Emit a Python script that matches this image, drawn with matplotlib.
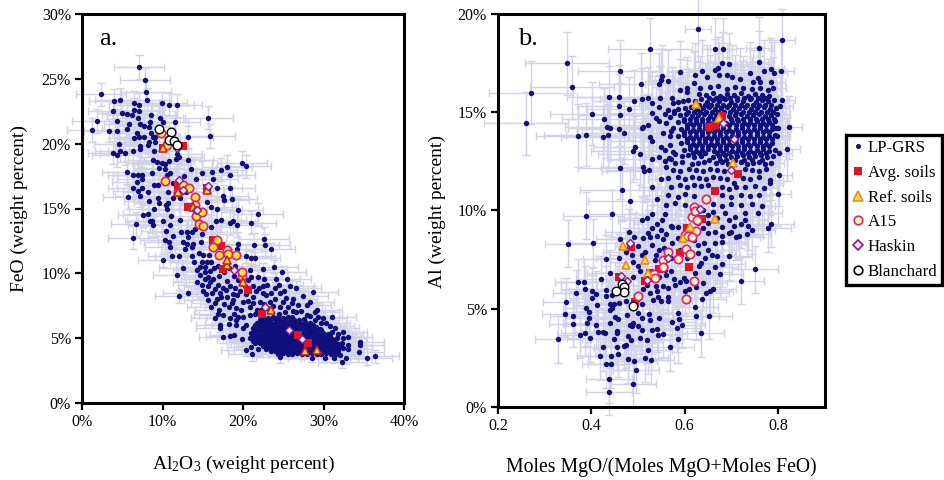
import matplotlib
matplotlib.use("Agg")
import matplotlib.pyplot as plt
from matplotlib.lines import Line2D
from matplotlib.ticker import FuncFormatter

plt.rcParams['font.family'] = ['Liberation Serif', 'DejaVu Sans']
plt.rcParams['mathtext.default'] = 'regular'

# ---------- Panel a: Al2O3 vs FeO ----------
a_high = [(7.1,25.9),(7.85,24.9),(7.9,24.0),(8.0,23.4),(2.4,23.8),(4.0,23.3),(4.7,23.4),(6.4,23.15),(7.1,23.0),(9.95,23.1),
(10.8,23.0),(11.8,22.95),(3.9,22.5),(5.0,22.4),(6.45,22.6),(7.05,22.5),(5.6,22.25),(6.2,22.2),(8.6,22.2),(7.0,22.0),
(15.65,22.0),(1.9,21.75),(4.4,21.75),(8.4,21.7),(9.65,22.0),(10.1,21.7),(11.5,21.65),(7.2,21.55),(7.7,21.4),(5.85,21.5),
(8.25,21.3),(1.2,21.05),(3.35,21.0),(4.3,20.95),(5.6,21.15),(8.5,20.85),(6.85,20.8),(9.05,20.5),(6.45,20.45),(7.1,20.5),
(7.7,20.5),(8.85,20.5),(13.1,20.5),(15.85,20.6),(4.55,20.0),(8.35,20.15),(8.2,19.9),(7.2,19.85),(7.2,19.6),(9.05,20.1),
(3.9,19.3),(4.7,19.45),(4.3,19.1),(5.3,19.25),(6.3,19.4),(8.9,19.45),(11.75,19.2),(12.0,19.0),(11.65,18.8),(13.15,18.75),
(8.85,18.75),(9.25,18.6),(9.9,18.5),(10.3,18.4),(10.8,18.65),(9.6,18.15),(10.3,18.05),(13.5,18.05),(19.8,18.5),(20.3,18.25),
(18.0,18.2),(17.3,18.0),(16.15,17.85),(14.85,17.75),(18.35,17.6),(5.6,17.8),(6.35,17.6),(7.0,17.55),(7.5,17.6),(8.65,17.7),
(10.9,17.7),(12.7,17.5),(10.55,17.6),(14.1,17.25),(16.3,17.25),(7.4,17.3),(6.8,17.05),(9.45,16.8),(8.9,16.8),(11.3,16.95),
(6.3,16.6),(7.5,16.6),(16.7,16.55),(18.35,16.6),(6.9,16.35),(8.2,16.25),(7.2,16.0),(5.65,15.9),(10.7,16.3),(12.9,16.3),
(17.45,15.95),(17.65,15.65),(18.6,15.7),(8.35,15.55),(9.45,15.8),(9.5,15.45),(10.7,15.45),(10.4,15.25),(11.3,15.8),(12.15,15.8),
(8.95,14.95),(10.6,15.0),(15.45,15.5),(16.05,15.15),(16.7,15.0),(19.4,14.9),(21.85,14.55),(21.0,13.9),(7.6,14.5),(8.2,14.55),
(6.7,13.8),(8.65,14.0),(8.4,14.05),(8.85,13.7),(10.1,14.0),(11.0,14.4),(10.9,13.7),(12.15,14.1),(6.35,12.75),(10.3,12.55),
(10.8,12.45),(10.9,12.05),(10.4,13.3),(11.25,12.85),(12.25,13.2),(13.0,13.15),(13.6,13.2),(14.0,13.45),(13.2,12.8),(12.55,12.45),
(13.0,12.3),(13.8,12.3),(14.7,12.4),(14.85,13.0),(16.05,13.6),(16.6,14.05),(17.3,14.1),(18.35,13.85),(19.2,13.7),(18.75,14.0),
(22.55,12.65),(21.3,12.2),(22.7,12.15),(19.4,12.3)]

a_low = [(12.8,11.85),(13.6,12.0),(14.5,11.55),(11.2,11.35),(12.0,11.35),(10.0,11.0),(23.4,11.85),(19.2,11.9),(20.4,11.3),(20.9,11.2),
(21.5,11.15),(14.85,10.9),(15.45,10.9),(16.05,10.9),(14.6,10.5),(15.25,10.5),(14.3,10.25),(12.55,10.4),(11.8,9.9),(14.6,9.9),
(15.65,9.75),(16.3,9.6),(14.3,9.35),(14.85,9.1),(15.65,9.0),(13.1,8.45),(12.0,8.25),(16.9,9.1),(17.5,8.85),(18.35,9.0),
(16.1,8.45),(15.65,7.95),(16.05,7.4),(16.7,8.05),(17.3,8.15),(17.95,8.2),(18.75,7.95),(19.4,9.5),(19.2,8.3),(20.0,7.8),
(20.8,7.4),(20.85,10.25),(21.0,9.75),(21.85,9.75),(22.6,9.6),(22.4,10.3),(23.8,10.5),(24.75,10.1),(24.1,9.6),(25.4,9.6),
(25.8,9.0),(26.6,8.9),(28.7,8.55),(27.45,8.25),(28.25,7.8),(29.2,7.2),(28.9,7.0),(27.85,7.55),(26.2,8.05),(24.55,8.45),
(23.9,8.85),(22.5,8.45),(21.25,8.2),(22.05,7.8),(23.3,7.8),(24.55,7.4),(25.6,7.4),(26.8,7.55),(26.6,7.0),(27.85,6.8),
(29.9,6.55),(30.95,6.6),(29.7,6.15),(31.35,5.75),(32.4,5.5),(32.4,5.05),(33.0,5.1),(33.0,4.5),(34.45,4.7),(34.45,4.5),
(34.4,3.9),(33.0,4.15),(32.8,3.5),(32.3,3.2),(35.4,3.45),(36.3,3.6),(24.55,3.55),(21.1,3.75),(20.3,4.1),(21.85,4.15),
(21.0,4.35),(17.5,5.1),(18.35,5.2),(18.85,5.25),(19.8,4.9),(17.1,6.0),(17.1,5.75),(16.55,6.55),(16.9,6.9),(17.5,6.8),
(18.4,6.55),(19.15,6.0),(20.0,5.75),(20.4,6.0),(18.85,6.9),(20.0,6.65),(15.3,9.6),(17.0,9.8),(18.0,9.4),(19.0,8.9),
(20.2,9.0),(21.2,9.0),(22.0,8.9),(23.0,9.1),(18.2,10.4),(19.0,10.6),(16.9,10.6),(15.9,10.2),(20.3,8.4),(21.7,7.2),
(23.0,7.3),(24.0,8.0),(25.0,8.6),(22.8,8.3),(20.6,7.9),(19.1,7.3),(21.4,6.9),(18.2,7.4),
(15.0,8.6),(15.2,10.1),(15.9,9.3),(16.5,8.8),(17.1,8.5),(17.9,8.7),(18.7,8.4),(19.6,8.6),(20.7,8.8),(21.6,8.6),
(22.4,9.0),(23.4,8.5),(24.4,9.1),(25.3,8.1),(26.0,7.7),(24.9,7.8),(23.7,7.5),(22.6,7.6),(21.2,7.7),(19.7,7.2),
(18.6,7.7),(17.6,7.6),(17.0,7.2),(16.5,7.7),(15.4,8.4),(19.8,9.3),(20.6,9.5),(18.8,9.8),(17.6,10.1),(16.4,10.4),
(19.4,6.6),(19.1,6.4),(18.2,6.1),(20.8,6.8),(22.2,7.2),(24.4,6.9),(25.2,7.0),(26.2,7.1),(27.2,7.1),(28.3,6.7),
(28.9,6.4),(29.3,6.6),(30.3,6.2),(30.7,5.9),(31.0,5.5),(31.8,5.3),(13.9,10.9),(13.6,11.3),(15.0,11.4),(15.8,11.4)]

a_dense = [(22.4,6.6),(23.1,6.55),(23.7,6.65),(24.3,6.6),(24.9,6.55),(25.5,6.65),(26.1,6.6),
(21.7,6.2),(22.3,6.25),(22.9,6.15),(23.5,6.2),(24.1,6.25),(24.7,6.15),(25.3,6.2),(25.9,6.25),(26.5,6.15),(27.1,6.2),(27.7,6.25),(28.3,6.15),
(21.2,5.8),(21.8,5.85),(22.4,5.75),(23.0,5.8),(23.6,5.85),(24.2,5.75),(24.8,5.8),(25.4,5.85),(26.0,5.75),(26.6,5.8),(27.2,5.85),(27.8,5.75),(28.4,5.8),(29.0,5.85),(29.5,5.7),
(20.9,5.4),(21.5,5.45),(22.1,5.35),(22.7,5.4),(23.3,5.45),(23.9,5.35),(24.5,5.4),(25.1,5.45),(25.7,5.35),(26.3,5.4),(26.9,5.45),(27.5,5.35),(28.1,5.4),(28.7,5.45),(29.3,5.35),(29.9,5.4),(30.5,5.3),
(20.8,5.0),(21.4,5.05),(22.0,4.95),(22.6,5.0),(23.2,5.05),(23.8,4.95),(24.4,5.0),(25.0,5.05),(25.6,4.95),(26.2,5.0),(26.8,5.05),(27.4,4.95),(28.0,5.0),(28.6,5.05),(29.2,4.95),(29.8,5.0),(30.4,5.05),(31.0,4.95),(31.6,5.0),
(21.5,4.6),(22.1,4.65),(22.7,4.55),(23.3,4.6),(23.9,4.65),(24.5,4.55),(25.1,4.6),(25.7,4.65),(26.3,4.55),(26.9,4.6),(27.5,4.65),(28.1,4.55),(28.7,4.6),(29.3,4.65),(29.9,4.55),(30.5,4.6),(31.1,4.65),(31.7,4.55),(32.2,4.6),
(22.8,4.2),(23.4,4.25),(24.0,4.15),(24.6,4.2),(25.2,4.25),(25.8,4.15),(26.4,4.2),(27.0,4.25),(27.6,4.15),(28.2,4.2),(28.8,4.25),(29.4,4.15),(30.0,4.2),(30.6,4.25),(31.2,4.15),(31.8,4.2),(32.4,4.25),
(24.3,3.8),(24.9,3.85),(25.5,3.75),(26.1,3.8),(26.7,3.85),(27.3,3.75),(27.9,3.8),(28.5,3.85),(29.1,3.75),(29.7,3.8),(30.3,3.85),(30.9,3.75),(31.5,3.8),(32.0,3.7),
(28.5,3.5),(30.2,3.5),(31.2,3.45),
(22.1,6.4),(22.7,6.4),(23.3,6.4),(23.9,6.45),(24.5,6.4),(25.1,6.4),(25.7,6.45),(26.3,6.4),(26.9,6.4),(27.5,6.5),
(21.5,6.0),(22.1,6.0),(22.7,6.0),(23.3,6.0),(23.9,6.05),(24.5,6.0),(25.1,6.0),(25.7,6.05),(26.3,6.0),(26.9,6.0),(27.5,6.0),(28.1,6.0),(28.7,6.0),
(21.3,5.6),(21.9,5.6),(22.5,5.6),(23.1,5.6),(23.7,5.65),(24.3,5.6),(24.9,5.6),(25.5,5.65),(26.1,5.6),(26.7,5.6),(27.3,5.6),(27.9,5.6),(28.5,5.6),(29.1,5.6),(29.7,5.6),
(21.1,5.2),(21.7,5.2),(22.3,5.2),(22.9,5.2),(23.5,5.25),(24.1,5.2),(24.7,5.2),(25.3,5.25),(25.9,5.2),(26.5,5.2),(27.1,5.2),(27.7,5.2),(28.3,5.2),(28.9,5.2),(29.5,5.2),(30.1,5.2),(30.7,5.2),
(21.2,4.8),(21.8,4.8),(22.4,4.8),(23.0,4.8),(23.6,4.85),(24.2,4.8),(24.8,4.8),(25.4,4.85),(26.0,4.8),(26.6,4.8),(27.2,4.8),(27.8,4.8),(28.4,4.8),(29.0,4.8),(29.6,4.8),(30.2,4.8),(30.8,4.8),(31.4,4.8),
(22.4,4.4),(23.0,4.4),(23.6,4.4),(24.2,4.45),(24.8,4.4),(25.4,4.4),(26.0,4.45),(26.6,4.4),(27.2,4.4),(27.8,4.4),(28.4,4.4),(29.0,4.4),(29.6,4.4),(30.2,4.4),(30.8,4.4),(31.4,4.4),(32.0,4.4),
(23.4,4.0),(24.0,4.0),(24.6,4.0),(25.2,4.0),(25.8,4.05),(26.4,4.0),(27.0,4.0),(27.6,4.0),(28.2,4.0),(28.8,4.0),(29.4,4.0),(30.0,4.0),(30.6,4.0),(31.2,4.0),(31.8,4.0)]

a_avg = [(12.5,19.8),(10.1,19.7),(15.45,16.55),(11.9,16.7),(13.2,15.1),(14.0,15.15),(16.3,12.6),(17.3,12.1),(17.5,10.3),(20.6,8.7),(22.3,6.9),(26.8,5.25),(28.0,4.6)]
a_ref = [(10.1,19.7),(15.45,16.4),(11.9,16.3),(13.8,15.15),(17.95,10.65),(17.95,11.0),(20.0,9.35),(23.5,7.2),(27.7,4.0),(29.2,4.05)]
a_a15 = [(10.3,17.1),(12.55,16.8),(13.25,16.6),(11.95,16.3),(14.0,15.85),(10.6,19.9),(9.75,20.85),(14.0,15.3),(14.1,14.45),(14.85,14.7),(14.55,13.8),(15.05,13.65),(16.8,12.6),(16.3,12.05),(17.95,11.8),(17.0,11.4),(18.15,11.5),(19.05,11.45),(19.9,9.8),(19.9,10.1)]
a_haskin = [(12.0,17.2),(12.5,16.4),(15.6,16.75),(11.75,19.65),(14.2,14.9),(14.3,14.85),(18.85,10.25),(22.7,7.4),(25.65,5.65),(27.25,4.9)]
a_blanchard = [(9.55,21.1),(11.0,20.9),(10.8,20.25),(11.4,20.2),(11.75,19.9)]

# ---------- Panel b: Mg number vs Al ----------
b_left = [(.27,16.0),(.261,14.44),(.347,17.5),(.358,16.27),(.461,17.08),(.526,18.2),(.506,16.44),(.438,15.76),(.459,15.8),(.459,15.34),
(.481,15.17),(.491,15.55),(.509,15.67),(.522,15.7),(.402,14.93),(.462,14.88),(.428,14.64),(.371,13.8),(.388,13.85),(.424,13.74),
(.436,13.83),(.433,14.27),(.44,14.18),(.459,14.17),(.469,13.96),(.509,14.18),(.511,14.27),(.521,14.35),(.529,14.95),(.526,13.76),
(.529,13.56),(.494,13.22),(.49,13.05),(.504,12.88),(.461,12.18),(.51,12.23),(.513,12.03),(.524,12.07),(.466,11.05),(.482,10.5),(.531,12.64)]

b_main = [(.544,15.28),(.547,15.74),(.531,15.45),(.544,16.44),(.549,16.64),(.551,16.84),(.564,16.59),(.544,12.74),(.549,13.22),(.558,13.08),
(.558,12.54),(.566,12.66),(.553,13.93),(.569,13.81),(.538,14.69),(.544,14.56),(.558,14.91),(.569,14.78),(.561,14.44),(.572,15.71),
(.574,15.49),(.586,15.54),(.597,15.59),(.59,16.13),(.606,16.22),(.606,16.05),(.591,17.05),(.622,16.9),(.638,17.1),(.621,16.5),
(.633,16.25),(.647,16.8),(.628,19.23),(.666,18.2),(.682,18.2),(.76,18.27),(.759,17.54),(.809,18.67),(.679,17.49),(.694,17.44),
(.665,17.15),(.672,17.23),(.674,16.9),(.69,16.9),(.701,16.8),(.719,16.67),(.74,16.98),(.771,17.08),(.784,17.18),(.792,16.98),
(.806,17.08),(.758,16.73),(.761,16.56),(.747,16.56),(.786,16.56),(.79,16.22),(.779,16.13),(.808,15.62),(.804,15.32),(.824,14.23),
(.82,13.12),(.795,14.18),(.797,13.8),(.803,12.91),(.803,11.81),(.799,10.83),(.783,11.56),(.783,11.39)]

b_core = [(.655,16.3),(.672,16.35),(.69,16.2),(.708,16.3),(.725,16.25),(.745,16.2),(.762,16.25),
(.63,15.95),(.645,15.9),(.66,16.0),(.675,15.85),(.69,15.95),(.705,15.9),(.72,16.0),(.735,15.85),(.75,15.95),(.765,15.9),(.78,15.85),
(.608,15.6),(.622,15.55),(.635,15.65),(.648,15.5),(.661,15.6),(.674,15.55),(.687,15.65),(.7,15.5),(.713,15.6),(.726,15.55),(.739,15.65),(.752,15.5),(.765,15.6),(.778,15.55),(.791,15.6),
(.6,15.2),(.613,15.25),(.626,15.15),(.639,15.2),(.652,15.25),(.665,15.15),(.678,15.2),(.691,15.25),(.704,15.15),(.717,15.2),(.73,15.25),(.743,15.15),(.756,15.2),(.769,15.25),(.782,15.15),(.795,15.2),
(.59,14.85),(.603,14.9),(.616,14.8),(.629,14.85),(.642,14.9),(.655,14.8),(.668,14.85),(.694,14.8),(.707,14.85),(.72,14.9),(.733,14.8),(.746,14.85),(.759,14.9),(.772,14.8),(.785,14.85),(.798,14.9),
(.585,14.5),(.598,14.55),(.611,14.45),(.624,14.5),(.637,14.55),(.65,14.45),(.663,14.5),(.676,14.55),(.689,14.45),(.702,14.5),(.715,14.55),(.728,14.45),(.741,14.5),(.754,14.55),(.767,14.45),(.78,14.5),(.793,14.55),
(.592,14.15),(.605,14.2),(.618,14.1),(.631,14.15),(.644,14.2),(.657,14.1),(.67,14.15),(.683,14.2),(.696,14.1),(.709,14.15),(.722,14.2),(.735,14.1),(.748,14.15),(.761,14.2),(.774,14.1),(.787,14.15),(.8,14.2),
(.585,13.8),(.598,13.85),(.611,13.75),(.624,13.8),(.637,13.85),(.65,13.75),(.663,13.8),(.676,13.85),(.689,13.75),(.702,13.8),(.715,13.85),(.728,13.75),(.741,13.8),(.754,13.85),(.767,13.75),(.78,13.8),(.793,13.85),
(.592,13.45),(.605,13.5),(.618,13.4),(.631,13.45),(.644,13.5),(.657,13.4),(.67,13.45),(.683,13.5),(.696,13.4),(.709,13.45),(.722,13.5),(.735,13.4),(.748,13.45),(.761,13.5),(.774,13.4),(.787,13.45),
(.598,13.1),(.611,13.15),(.624,13.05),(.637,13.1),(.65,13.15),(.663,13.05),(.676,13.1),(.689,13.15),(.702,13.05),(.715,13.1),(.728,13.15),(.741,13.05),(.754,13.1),(.767,13.15),(.78,13.05),(.793,13.1),
(.595,12.75),(.608,12.8),(.621,12.7),(.634,12.75),(.66,12.7),(.673,12.75),(.686,12.8),(.699,12.7),(.712,12.75),(.725,12.8),(.738,12.7),(.751,12.75),(.764,12.8),(.777,12.7),(.79,12.75),
(.58,12.4),(.595,12.45),(.615,12.35),(.628,12.4),(.641,12.45),(.667,12.4),(.68,12.45),(.693,12.35),(.72,12.45),(.733,12.35),(.746,12.4),(.759,12.45),(.772,12.35),(.785,12.4),
(.575,12.05),(.59,12.0),(.61,12.1),(.625,12.05),(.64,12.0),(.655,12.1),(.67,12.05),(.685,12.0),(.73,12.1),(.745,12.05),(.76,12.0),(.775,12.1),
(.565,11.65),(.585,11.7),(.6,11.6),(.615,11.7),(.63,11.65),(.645,11.6),(.66,11.7),(.675,11.65),(.69,11.6),(.705,11.4),(.725,11.65),(.74,11.6),(.76,11.7),
(.57,11.2),(.59,11.3),(.605,11.2),(.62,11.3),(.635,11.25),(.65,11.3),(.68,11.2),(.695,11.1),(.71,11.2),(.73,11.2),(.75,11.25),(.77,11.15),
(.565,10.8),(.585,10.7),(.6,10.85),(.62,10.75),(.68,10.8),(.7,10.7),(.72,10.8),(.74,10.75),(.76,10.8),
(.56,10.3),(.58,10.4),(.6,10.3),(.66,10.35),(.68,10.25),(.7,10.35),(.72,10.3),(.745,10.35),(.765,10.25),(.54,10.6),(.53,11.2),(.55,11.6),(.56,12.2),
(.652,15.75),(.668,15.75),(.682,15.75),(.698,15.75),(.712,15.75),(.728,15.75),(.743,15.75),(.758,15.75),(.772,15.72),
(.63,15.38),(.643,15.38),(.656,15.38),(.669,15.38),(.682,15.38),(.695,15.38),(.708,15.38),(.721,15.38),(.734,15.38),(.747,15.38),(.76,15.38),(.773,15.38),(.786,15.38),
(.607,15.03),(.62,15.03),(.633,15.03),(.646,15.03),(.659,15.03),(.672,15.03),(.685,15.03),(.698,15.03),(.711,15.03),(.724,15.03),(.737,15.03),(.75,15.03),(.763,15.03),(.776,15.03),(.789,15.03),
(.598,14.68),(.611,14.68),(.624,14.68),(.637,14.68),(.65,14.68),(.663,14.68),(.7,14.68),(.713,14.68),(.726,14.68),(.739,14.68),(.752,14.68),(.765,14.68),(.778,14.68),(.791,14.68),
(.605,14.33),(.618,14.33),(.631,14.33),(.644,14.33),(.657,14.33),(.67,14.33),(.696,14.33),(.709,14.33),(.722,14.33),(.735,14.33),(.748,14.33),(.761,14.33),(.774,14.33),(.787,14.33),
(.598,13.98),(.611,13.98),(.624,13.98),(.637,13.98),(.65,13.98),(.663,13.98),(.676,13.98),(.689,13.98),(.702,13.98),(.715,13.98),(.728,13.98),(.741,13.98),(.754,13.98),(.767,13.98),(.78,13.98),
(.605,13.63),(.618,13.63),(.631,13.63),(.644,13.63),(.657,13.63),(.67,13.63),(.683,13.63),(.696,13.63),(.709,13.63),(.722,13.63),(.735,13.63),(.748,13.63),(.761,13.63),(.774,13.63),(.787,13.63),
(.611,13.28),(.624,13.28),(.637,13.28),(.65,13.28),(.663,13.28),(.676,13.28),(.689,13.28),(.702,13.28),(.715,13.28),(.728,13.28),(.741,13.28),(.754,13.28),(.767,13.28),(.78,13.28),
(.618,12.92),(.631,12.92),(.644,12.92),(.67,12.92),(.683,12.92),(.696,12.92),(.709,12.92),(.722,12.92),(.735,12.92),(.748,12.92),(.761,12.92),(.774,12.92),
(.652,12.58),(.675,12.58),(.688,12.58),(.708,12.58),(.728,12.58),(.745,12.58),(.765,12.58),
(.568,13.35),(.575,13.0),(.57,12.6),(.58,12.9),(.575,14.2),(.57,14.05),(.565,15.1),(.578,14.95),(.585,15.15),(.577,15.05)]

b_lower = [(.389,9.74),(.445,9.84),(.351,8.32),(.404,8.35),(.461,8.54),(.492,8.67),(.508,9.52),(.511,8.59),(.522,8.84),(.526,8.67),
(.531,9.83),(.551,9.52),(.558,9.81),(.571,9.22),(.561,8.81),(.572,8.34),(.554,8.54),(.529,8.22),(.544,8.0),(.539,7.74),
(.536,7.49),(.488,7.74),(.432,7.54),(.508,7.74),(.515,7.91),(.558,6.98),(.578,6.5),(.591,6.34),(.599,6.55),(.602,6.39),
(.554,6.17),(.564,6.05),(.539,6.17),(.54,5.88),(.542,5.59),(.564,5.59),(.565,5.37),(.549,5.37),(.533,5.45),(.508,5.23),
(.638,5.49),(.622,5.08),(.624,4.61),(.652,4.64),(.634,3.76),(.585,4.78),(.588,4.47),(.572,4.35),(.594,4.18),(.583,4.0),
(.585,3.45),(.569,3.05),(.554,3.73),(.542,3.64),(.54,3.98),(.524,4.74),(.544,4.52),(.526,4.44),(.508,4.52),(.501,4.78),
(.476,4.69),(.451,4.57),(.458,4.47),(.44,4.27),(.394,4.52),(.411,4.15),(.39,4.3),(.361,4.64),(.344,4.74),(.36,4.23),
(.346,5.34),(.367,5.78),(.386,5.99),(.372,6.34),(.385,6.34),(.402,5.88),(.402,5.54),(.411,5.74),(.431,5.96),(.431,5.67),
(.389,5.06),(.394,4.86),(.413,5.2),(.44,5.23),(.445,5.03),(.44,4.95),(.449,5.23),(.329,3.45),(.376,3.67),(.386,3.79),
(.397,3.5),(.415,3.84),(.426,3.84),(.43,3.79),(.449,3.45),(.454,3.76),(.456,3.89),(.479,3.62),(.486,3.39),(.483,4.18),
(.488,4.1),(.501,4.1),(.508,3.93),(.519,3.42),(.522,2.88),(.515,2.49),(.528,2.37),(.504,3.5),(.426,3.05),(.456,3.06),
(.47,3.08),(.474,3.17),(.458,2.71),(.442,2.61),(.419,2.57),(.431,2.17),(.442,2.17),(.479,2.42),(.491,2.35),(.496,1.9),
(.438,1.42),(.489,1.15),(.438,0.78),(.751,7.01),(.72,6.42),(.694,7.66),(.676,6.78),(.661,6.0),(.654,5.88),(.645,5.79),
(.778,9.1),(.784,9.32),(.744,9.01),(.733,8.81),(.717,8.71),(.711,8.67),(.694,8.84),(.679,8.42),(.665,8.34),(.651,8.84),
(.642,8.34),(.629,7.83),(.644,7.57),(.636,7.32),(.651,6.89),(.622,6.81),(.658,7.74),(.669,7.66),(.629,8.25),(.651,8.0),
(.586,8.59),(.572,9.18),(.601,9.01),(.586,9.18),(.629,9.35),(.651,9.35),(.679,9.18),(.694,9.52),(.708,9.69),(.729,9.52),
(.758,9.86),(.729,9.86),(.651,9.78),(.686,9.86),
(.64,10.0),(.66,9.9),(.67,9.6),(.705,9.2),(.72,9.3),(.735,9.2),(.7,8.9),(.665,8.9),(.68,8.7),(.64,9.1),
(.62,8.5),(.59,8.0),(.605,7.6),(.63,7.2),(.665,7.1),(.68,7.3),(.57,7.6),(.555,8.1),(.54,8.7),(.55,9.0),
(.53,9.1),(.57,6.9),(.545,6.6),(.525,5.8),(.56,6.7),(.58,6.2),(.6,5.9),(.61,6.0),(.625,6.1),(.64,6.3),
(.51,6.0),(.49,6.6),(.505,6.9),(.5,7.2),(.49,7.4),(.475,7.9),(.46,7.6),(.44,6.8),(.42,6.5),(.445,5.7),
(.46,5.3),(.475,5.4),(.49,4.3),(.53,3.9),(.5,5.5),(.52,6.2),(.52,9.6),(.54,9.3),(.5,8.2),(.48,8.9)]

b_avg = [(.653,14.23),(.665,14.35),(.681,14.8),(.714,11.84),(.665,10.98),(.638,9.56),(.604,9.1),(.59,7.83),(.609,7.12),(.484,8.13),(.544,7.0),(.515,6.39),(.459,6.64),(.526,6.8),(.494,5.32)]
b_ref = [(.624,15.4),(.674,14.69),(.704,12.44),(.664,9.57),(.467,8.2),(.475,7.23),(.516,7.5),(.522,6.8),(.611,9.18),(.597,8.59)]
b_a15 = [(.645,10.6),(.62,10.17),(.615,9.69),(.627,9.52),(.624,8.98),(.601,8.76),(.608,8.71),(.616,8.64),(.603,8.03),(.611,7.79),(.565,7.88),(.553,7.49),(.585,7.52),(.554,7.11),(.534,6.76),(.536,6.56),(.619,6.42),(.501,5.67),(.603,5.52),(.622,9.95)]
b_haskin = [(.682,14.44),(.705,13.62),(.699,12.06),(.633,10.08),(.483,8.34),(.464,6.67),(.476,6.39),(.565,7.57),(.52,6.44)]
b_blanchard = [(.465,6.27),(.469,6.1),(.471,5.84),(.453,5.91),(.489,5.15)]

# Error bar half-widths
a_err_high = (3.1, 0.9)
a_err_low = (3.0, 0.5)
a_err_dense = (3.0, 0.35)
b_err_left = (0.09, 1.6)
b_err_main = (0.028, 1.6)
b_err_lower = (0.05, 1.2)

legend_labels = ['LP-GRS', 'Avg. soils', 'Ref. soils', 'A15', 'Haskin', 'Blanchard']
x_label_a = 'Al$_2$O$_3$ (weight percent)'
y_label_a = 'FeO (weight percent)'
x_label_b = 'Moles MgO/(Moles MgO+Moles FeO)'
y_label_b = 'Al (weight percent)'

NAVY = '#10107c'
ERR = '#d2d2e8'
RED = '#dc1424'
PINK = '#e0207c'
PURPLE = '#8a1a8a'
W, H = 945, 480


def unzip(pts):
    return [p[0] for p in pts], [p[1] for p in pts]


def cloud(ax, groups):
    for pts, (ex, ey) in groups:
        xs, ys = unzip(pts)
        ax.errorbar(xs, ys, xerr=ex, yerr=ey, fmt='none', ecolor=ERR, elinewidth=1.05,
                    capsize=2.6, capthick=1.05, zorder=1, clip_on=False)
    for pts, _ in groups:
        xs, ys = unzip(pts)
        ax.plot(xs, ys, 'o', color=NAVY, ms=3.9, mew=0, zorder=2, clip_on=False)


def overlay(ax, avg, ref, a15, haskin, blanch, ref_face, ref_edge, a15_face):
    x, y = unzip(avg)
    ax.plot(x, y, 's', color=RED, ms=5.4, mew=0, zorder=3)
    x, y = unzip(a15)
    ax.plot(x, y, 'o', mfc=a15_face, mec=PINK, ms=6.0, mew=1.25, zorder=4)
    x, y = unzip(ref)
    ax.plot(x, y, '^', mfc=ref_face, mec=ref_edge, ms=5.8, mew=1.2, zorder=5)
    x, y = unzip(haskin)
    ax.plot(x, y, 'D', mfc='#e8e4f0', mec=PURPLE, ms=4.2, mew=1.0, zorder=6)
    x, y = unzip(blanch)
    ax.plot(x, y, 'o', mfc='white', mec='black', ms=6.2, mew=1.0, zorder=7)


def axes_px(l, t, r, b):
    return fig.add_axes([l / W, 1 - b / H, (r - l) / W, (b - t) / H])


def finish(ax):
    for s in ax.spines.values():
        s.set_linewidth(2.2)
        s.set_zorder(10)
    ax.tick_params(direction='out', length=5, width=1.6, labelsize=11.5, pad=3)
    ax.set_facecolor('white')


fig = plt.figure(figsize=(W / 100, H / 100), dpi=100)
pct = FuncFormatter(lambda v, _: f'{v:.0f}%')

ax1 = axes_px(82, 14, 404.5, 403)
cloud(ax1, [(a_high, a_err_high), (a_low, a_err_low), (a_dense, a_err_dense)])
overlay(ax1, a_avg, a_ref, a_a15, a_haskin, a_blanchard, '#ffe92e', RED, '#ffe92e')
ax1.set_xlim(0, 40)
ax1.set_ylim(0, 30)
ax1.set_xticks([0, 10, 20, 30, 40])
ax1.set_yticks([0, 5, 10, 15, 20, 25, 30])
ax1.xaxis.set_major_formatter(pct)
ax1.yaxis.set_major_formatter(pct)
finish(ax1)
ax1.text(2.1, 28.1, 'a.', fontsize=19, va='center', zorder=12)

ax2 = axes_px(498, 14, 824.7, 407)
cloud(ax2, [(b_left, b_err_left), (b_main, b_err_main), (b_core, b_err_main), (b_lower, b_err_lower)])
overlay(ax2, b_avg, b_ref, b_a15, b_haskin, b_blanchard, '#ffdc5a', '#f08a10', '#fff3b8')
ax2.set_xlim(0.2, 0.9)
ax2.set_ylim(0, 20)
ax2.set_xticks([0.2, 0.4, 0.6, 0.8])
ax2.set_yticks([0, 5, 10, 15, 20])
ax2.yaxis.set_major_formatter(pct)
finish(ax2)
ax2.text(0.243, 18.75, 'b.', fontsize=19, va='center', zorder=12)

fig.text(243 / W, 1 - 464 / H, x_label_a, fontsize=14, ha='center', va='center')
fig.text(661 / W, 1 - 467 / H, x_label_b, fontsize=14.2, ha='center', va='center')
fig.text(19 / W, 1 - 209 / H, y_label_a, fontsize=14, rotation=90, ha='center', va='center')
fig.text(437 / W, 1 - 212 / H, y_label_b, fontsize=14, rotation=90, ha='center', va='center')

handles = [
    Line2D([], [], ls='', marker='o', color=NAVY, ms=3.6, mew=0),
    Line2D([], [], ls='', marker='s', color=RED, ms=5.5, mew=0),
    Line2D([], [], ls='', marker='^', mfc='#ffdc5a', mec='#f08a10', ms=6.5, mew=1.1),
    Line2D([], [], ls='', marker='o', mfc='#fff3b8', mec=PINK, ms=6.2, mew=1.2),
    Line2D([], [], ls='', marker='D', mfc='#e8e4f0', mec=PURPLE, ms=4.6, mew=1.2),
    Line2D([], [], ls='', marker='o', mfc='white', mec='black', ms=6.2, mew=1.2),
]
leg = fig.legend(handles, legend_labels, loc='center', bbox_to_anchor=(894 / W, 1 - 210 / H),
                 fontsize=12.2, frameon=True, fancybox=False, edgecolor='black', framealpha=1,
                 borderpad=0.3, labelspacing=0.52, handletextpad=0.1, handlelength=0.9, borderaxespad=0)
leg.get_frame().set_linewidth(2.4)

fig.savefig('out.png', dpi=100)
